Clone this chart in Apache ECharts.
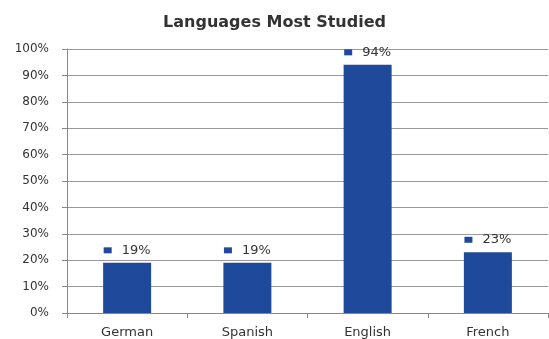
<!DOCTYPE html>
<html>
<head>
<meta charset="utf-8">
<script src="https://cdn.jsdelivr.net/npm/echarts@6/dist/echarts.min.js"></script>
<style>
html,body{margin:0;padding:0;background:#fff;}
#c{width:549px;height:339px;}
</style>
</head>
<body>
<div id="c"></div>
<script>
const categories = ['German', 'Spanish', 'English', 'French'];
const values = [19, 19, 94, 23];
const yTicks = [0, 10, 20, 30, 40, 50, 60, 70, 80, 90, 100];

const chart = echarts.init(document.getElementById('c'), null, {renderer: 'canvas'});
chart.setOption({
  animation: false,
  backgroundColor: '#ffffff',
  title: {
    text: 'Languages Most Studied',
    left: 'center',
    top: 10,
    textStyle: {fontFamily: 'DejaVu Sans', fontSize: 16, fontWeight: 'bold', color: '#333333'}
  },
  grid: {left: 67, right: 1, top: 49, bottom: 26, containLabel: false},
  xAxis: {
    type: 'category',
    data: categories,
    axisLine: {show: true, lineStyle: {color: '#888888', width: 1}},
    axisTick: {show: true, length: 5, lineStyle: {color: '#888888'}},
    axisLabel: {fontFamily: 'DejaVu Sans', fontSize: 13, color: '#333333', margin: 13}
  },
  yAxis: {
    type: 'value',
    min: yTicks[0],
    max: yTicks[yTicks.length - 1],
    interval: 10,
    axisLine: {show: true, lineStyle: {color: '#888888', width: 1}},
    axisTick: {show: true, length: 5, lineStyle: {color: '#888888'}},
    splitLine: {show: true, lineStyle: {color: '#999999', width: 1}},
    axisLabel: {fontFamily: 'DejaVu Sans', fontSize: 12, color: '#333333', margin: 18, formatter: '{value}%'}
  },
  series: [{
    type: 'bar',
    data: values,
    barWidth: 48,
    itemStyle: {color: '#1f4a9b'},
    label: {
      show: true,
      position: 'top',
      distance: 6,
      formatter: function (p) { return '{sq|}{v|' + p.value + '%}'; },
      rich: {
        sq: {backgroundColor: '#1f4a9b', width: 8, height: 6},
        v: {fontFamily: 'DejaVu Sans', fontSize: 13, color: '#333333', padding: [0, 0, 0, 10]}
      }
    }
  }]
});
</script>
</body>
</html>
